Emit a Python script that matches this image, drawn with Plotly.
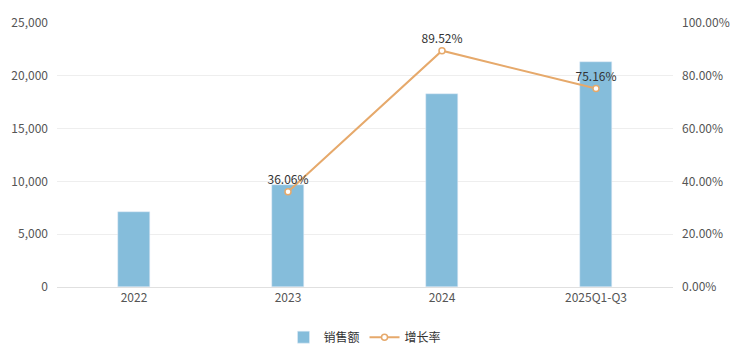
import plotly.graph_objects as go

categories = ["2022", "2023", "2024", "2025Q1-Q3"]
sales = [7080, 9630, 18250, 21350]
growth = [None, 36.06, 89.52, 75.16]
growth_labels = ["", "36.06%", "89.52%", "75.16%"]

font_family = "Noto Sans CJK SC, Noto Sans, sans-serif"

fig = go.Figure()
fig.add_trace(go.Bar(
    x=categories, y=sales, name="销售额",
    marker=dict(color="#85BDDB"), width=0.21,
    hoverinfo="skip",
))
fig.add_trace(go.Scatter(
    x=categories, y=growth, name="增长率", yaxis="y2",
    mode="lines+markers+text",
    line=dict(color="#E6A96B", width=2),
    marker=dict(symbol="circle", size=6, color="white",
                line=dict(color="#E6A96B", width=1.5)),
    text=growth_labels, textposition="top center",
    textfont=dict(size=12, color="#333333", family=font_family),
    cliponaxis=False,
))

fig.update_layout(
    width=744, height=363,
    margin=dict(l=57, r=71, t=23, b=76, autoexpand=False),
    paper_bgcolor="white", plot_bgcolor="white",
    font=dict(family=font_family, size=12, color="#666666"),
    bargap=0,
    xaxis=dict(
        type="category", showgrid=False, ticks="", automargin=False,
        showline=True, linecolor="#E0E0E0", linewidth=1,
        tickfont=dict(size=12, color="#555555"),
    ),
    yaxis=dict(
        range=[0, 25000], tickvals=[0, 5000, 10000, 15000, 20000, 25000],
        ticktext=["0", "5,000", "10,000", "15,000", "20,000", "25,000"],
        showgrid=True, gridcolor="#EEEEEE", gridwidth=1, automargin=False,
        zeroline=False, showline=False, ticks="", ticklabelstandoff=8,
        tickfont=dict(size=12, color="#555555"),
    ),
    yaxis2=dict(
        overlaying="y", side="right", range=[0, 100],
        tickvals=[0, 20, 40, 60, 80, 100],
        ticktext=["0.00%", "20.00%", "40.00%", "60.00%", "80.00%", "100.00%"],
        showgrid=False, zeroline=False, showline=False, ticks="",
        ticklabelstandoff=8, automargin=False,
        tickfont=dict(size=12, color="#555555"),
    ),
    legend=dict(
        orientation="h", x=0.5, xanchor="center", y=-0.135, yanchor="top",
        font=dict(size=12, color="#333333"),
        itemwidth=30,
    ),
    showlegend=True,
)

fig.write_html("out.html", config={"displayModeBar": False},
               post_script="document.body.style.margin='0';")
